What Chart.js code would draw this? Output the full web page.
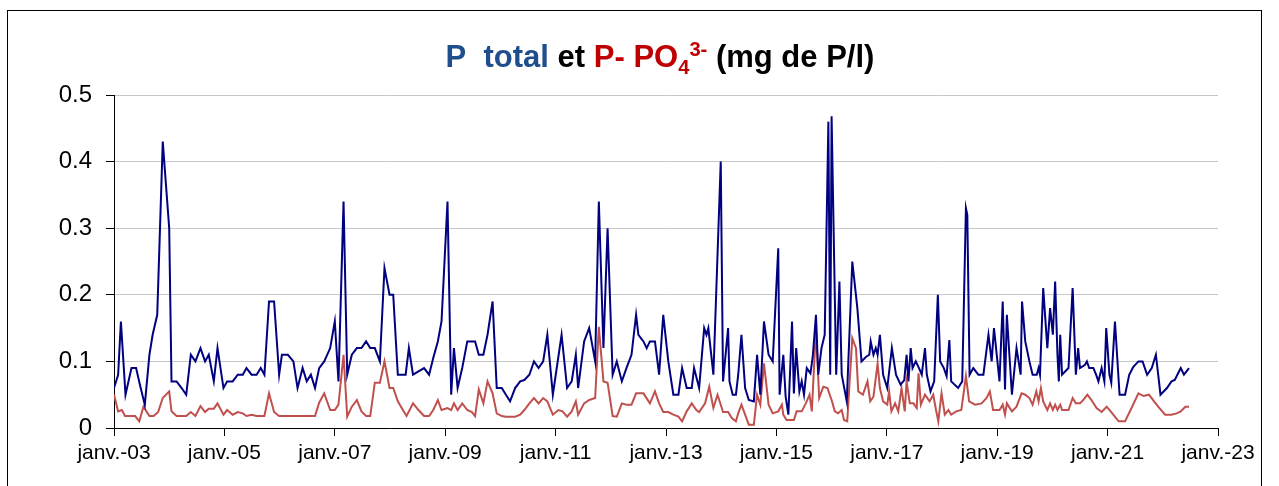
<!DOCTYPE html>
<html>
<head>
<meta charset="utf-8">
<script src="https://cdn.jsdelivr.net/npm/chart.js@4/dist/chart.umd.min.js"></script>
<style>
  html, body { margin: 0; padding: 0; background: #fff; }
  #wrap { position: relative; width: 1279px; height: 486px; overflow: hidden; }
  #frame { position: absolute; left: 7px; top: 10px; width: 1255px; height: 600px; border: 1px solid #000; box-sizing: border-box; }
  #title { position: absolute; top: 41px; left: 660px; transform: translateX(-50%); white-space: nowrap;
           font: bold 31px "Liberation Sans", Arial, sans-serif; line-height: 1; }
  #title sub, #title sup { font-size: 65%; line-height: 0; }
  #chart { position: absolute; left: 0; top: 0; }
</style>
</head>
<body>
<div id="wrap">
  <canvas id="chart" width="1279" height="486"></canvas>
  <div id="frame"></div>
  <div id="title"><span style="color:#1f4e8c">P&nbsp; total</span> <span style="color:#000">et</span> <span style="color:#c00000">P- PO<sub>4</sub><sup>3-</sup></span> <span style="color:#000">(mg de P/l)</span></div>
</div>
<script>
// mois depuis janv. 2003 et valeurs (mg de P/l)
var ptotMonths = [
  0, 0.9, 1.5, 2.5, 3.8, 4.8, 5.8, 6.7, 7.7, 8.4,
  9.4, 10.6, 12.0, 12.5, 13.6, 14.7, 15.7, 16.7, 17.7, 18.8,
  19.8, 20.6, 21.7, 22.5, 23.8, 24.6, 25.8, 26.9, 28.0, 28.8,
  29.9, 31.0, 31.9, 32.7, 33.7, 34.8, 35.9, 36.5, 37.8, 39.0,
  39.9, 41.0, 41.9, 42.8, 43.7, 44.6, 45.7, 47.0, 48.0, 48.8,
  49.9, 50.7, 51.7, 52.8, 53.8, 54.8, 55.7, 56.7, 57.8, 58.8,
  59.9, 60.7, 61.7, 62.8, 63.4, 64.1, 65.0, 66.2, 67.4, 68.5,
  69.4, 70.4, 71.2, 72.5, 73.3, 73.9, 74.7, 75.7, 76.8, 77.8,
  78.5, 79.3, 80.3, 81.2, 82.3, 83.2, 84.3, 85.2, 86.1, 87.2,
  88.3, 89.2, 90.3, 91.3, 92.3, 93.3, 94.2, 95.4, 97.3, 98.5,
  99.5, 100.4, 100.9, 102.2, 103.3, 104.6, 105.4, 106.4, 107.3, 108.4,
  109.3, 110.4, 111.4, 112.5, 113.5, 114.0, 115.1, 115.8, 116.5, 117.6,
  118.5, 119.4, 120.5, 121.6, 122.7, 123.5, 124.5, 125.6, 126.1, 127.2,
  128.3, 128.8, 129.2, 130.3, 131.9, 132.4, 133.5, 133.8, 134.5, 135.2,
  135.7, 136.4, 137.2, 138.0, 139.1, 139.8, 140.5, 141.3, 142.3, 143.2,
  144.4, 144.7, 145.5, 146.0, 146.6, 147.4, 147.8, 148.3, 149.0, 149.5,
  150.0, 150.6, 151.4, 151.9, 152.6, 153.1, 153.8, 154.5, 155.3, 155.7,
  156.0, 157.0, 157.7, 158.2, 159.3, 160.5, 161.6, 162.5, 163.5, 164.2,
  164.5, 165.1, 165.6, 166.0, 166.5, 167.2, 168.1, 169.1, 170.0, 171.0,
  171.8, 172.3, 172.7, 173.2, 173.6, 174.3, 175.0, 175.6, 176.3, 176.7,
  177.5, 178.3, 179.1, 179.6, 180.4, 181.0, 181.6, 182.0, 183.5, 184.4,
  185.2, 185.5, 186.0, 186.8, 187.9, 189.0, 190.1, 190.8, 191.3, 192.5,
  193.2, 193.7, 194.1, 195.2, 196.2, 197.1, 197.4, 198.1, 199.0, 199.7,
  200.6, 201.0, 201.3, 202.0, 202.9, 203.5, 204.1, 204.6, 205.1, 205.4,
  205.7, 206.1, 207.5, 208.4, 209.1, 209.6, 210.0, 211.1, 211.5, 212.0,
  212.9, 213.5, 214.0, 214.7, 215.3, 215.7, 216.4, 216.8, 217.6, 218.6,
  219.8, 220.7, 221.6, 222.7, 223.6, 224.6, 225.6, 226.5, 227.5, 228.9,
  229.9, 230.6, 231.9, 232.6, 233.7
];
var ptotValues = [
  .06, .08, .16, .05, .09, .09, .06, .035, .11, .14,
  .17, .43, .30, .07, .07, .06, .05, .11, .10, .12,
  .10, .11, .07, .12, .06, .07, .07, .08, .08, .09,
  .08, .08, .09, .08, .19, .19, .08, .11, .11, .10,
  .06, .09, .07, .08, .06, .09, .10, .12, .16, .07,
  .34, .08, .11, .12, .12, .13, .12, .12, .10, .24,
  .20, .20, .08, .08, .08, .12, .08, .085, .09, .08,
  .105, .13, .16, .34, .05, .12, .06, .09, .13, .13,
  .13, .11, .11, .14, .19, .06, .06, .05, .04, .06,
  .07, .072, .08, .10, .09, .10, .14, .05, .14, .06,
  .07, .11, .06, .13, .15, .10, .34, .12, .30, .08,
  .10, .07, .09, .11, .17, .14, .13, .12, .13, .13,
  .08, .17, .10, .05, .05, .09, .06, .06, .09, .06,
  .15, .14, .15, .08, .40, .07, .15, .07, .05, .05,
  .08, .14, .06, .042, .04, .11, .05, .16, .11, .10,
  .27, .05, .11, .048, .02, .16, .052, .12, .055, .07,
  .05, .09, .082, .107, .17, .08, .12, .14, .46, .08,
  .468, .08, .22, .08, .04, .25, .18, .10, .107, .11,
  .13, .11, .12, .11, .14, .08, .06, .12, .08, .065,
  .072, .11, .07, .12, .09, .10, .09, .08, .12, .08,
  .055, .07, .20, .10, .09, .078, .132, .07, .06, .07,
  .33, .32, .08, .09, .08, .08, .14, .10, .15, .07,
  .19, .058, .17, .05, .12, .08, .19, .13, .10, .08,
  .08, .09, .08, .21, .12, .18, .14, .22, .11, .07,
  .14, .08, .09, .21, .08, .12, .09, .095, .10, .09,
  .09, .08, .07, .09, .07, .15, .08, .068, .16, .05,
  .05, .08, .092, .10, .10, .08, .09, .11, .05, .06,
  .07, .072, .09, .08, .09
];

var po4Months = [
  0, 0.9, 1.7, 2.4, 3.5, 4.6, 5.5, 6.4, 7.7, 8.6,
  9.6, 10.6, 12.0, 12.5, 13.6, 14.7, 15.7, 16.7, 17.7, 18.8,
  19.8, 20.6, 21.7, 22.5, 23.8, 24.6, 25.8, 26.9, 28.0, 28.8,
  29.9, 31.0, 31.9, 32.7, 33.7, 34.8, 35.9, 37.0, 38.0, 39.0,
  40.0, 41.0, 42.0, 43.0, 43.7, 44.6, 45.7, 47.0, 48.0, 48.8,
  49.9, 50.7, 51.7, 52.8, 53.8, 54.8, 55.7, 56.7, 57.8, 58.8,
  59.9, 60.7, 61.7, 62.8, 63.6, 65.0, 66.2, 67.4, 68.5, 69.4,
  70.4, 71.2, 72.5, 73.3, 73.9, 74.7, 75.7, 76.8, 77.8, 78.5,
  79.3, 80.3, 81.2, 82.3, 83.2, 84.3, 85.2, 86.1, 87.2, 88.3,
  89.2, 90.3, 91.3, 92.3, 93.3, 94.2, 95.4, 96.6, 97.5, 98.5,
  99.5, 100.4, 100.9, 102.2, 103.3, 104.6, 105.4, 106.4, 107.3, 108.4,
  109.3, 110.4, 111.4, 112.5, 113.5, 115.1, 116.5, 117.6, 118.5, 119.4,
  120.5, 121.6, 122.7, 123.5, 124.5, 125.6, 126.6, 127.2, 128.5, 129.4,
  130.3, 131.2, 131.9, 132.4, 133.5, 134.3, 135.2, 135.7, 136.4, 137.2,
  138.0, 139.1, 139.8, 140.5, 141.3, 142.3, 143.2, 144.4, 145.2, 145.5,
  146.2, 147.0, 147.8, 148.4, 149.5, 150.4, 151.2, 151.7, 152.6, 153.3,
  154.2, 155.1, 156.0, 156.7, 157.4, 158.2, 158.7, 159.4, 160.5, 161.3,
  161.8, 162.8, 163.8, 164.4, 165.1, 166.0, 166.5, 167.2, 168.1, 168.5,
  169.0, 169.8, 170.5, 171.2, 171.9, 172.3, 173.0, 173.8, 174.5, 174.9,
  175.4, 176.3, 177.3, 178.1, 178.7, 179.2, 179.9, 180.6, 181.4, 182.0,
  183.1, 184.2, 185.2, 185.9, 187.2, 188.6, 189.7, 190.4, 191.1, 192.5,
  193.2, 193.7, 194.1, 195.2, 196.2, 197.3, 198.1, 199.0, 199.7, 200.5,
  201.0, 201.5, 202.0, 202.9, 203.5, 204.1, 204.6, 205.1, 205.7, 206.1,
  207.5, 208.4, 209.1, 210.0, 210.7, 211.6, 212.5, 213.6, 214.7, 215.8,
  216.8, 218.4, 219.8, 221.2, 222.7, 223.8, 225.0, 225.9, 227.0, 228.5,
  229.9, 231.0, 231.9, 232.9, 233.7
];
var po4Values = [
  .05, .025, .027, .018, .018, .018, .01, .032, .018, .018,
  .024, .045, .055, .025, .018, .018, .018, .024, .018, .033,
  .024, .029, .029, .037, .02, .027, .02, .024, .022, .018,
  .02, .018, .018, .018, .052, .024, .018, .018, .018, .018,
  .018, .018, .018, .018, .018, .038, .052, .027, .027, .035,
  .11, .017, .032, .042, .025, .018, .018, .068, .068, .10,
  .06, .06, .04, .027, .018, .037, .027, .018, .018, .027,
  .042, .027, .03, .027, .037, .027, .037, .027, .024, .018,
  .058, .037, .07, .052, .022, .018, .017, .017, .017, .02,
  .027, .037, .045, .037, .045, .04, .02, .027, .025, .017,
  .025, .04, .02, .037, .042, .045, .152, .07, .068, .018,
  .017, .037, .035, .035, .052, .052, .037, .055, .037, .024,
  .024, .02, .017, .01, .025, .037, .027, .024, .037, .062,
  .03, .05, .035, .024, .024, .015, .01, .022, .035, .02,
  .005, .005, .05, .035, .097, .035, .022, .025, .035, .02,
  .012, .012, .012, .025, .025, .037, .05, .025, .15, .045,
  .062, .06, .042, .025, .022, .027, .012, .01, .135, .12,
  .055, .05, .07, .04, .047, .097, .06, .04, .035, .055,
  .025, .037, .025, .06, .025, .07, .037, .037, .03, .082,
  .035, .05, .04, .05, .027, .01, .052, .02, .027, .02,
  .025, .027, .078, .04, .035, .037, .045, .055, .027, .027,
  .035, .02, .037, .025, .032, .052, .05, .045, .035, .055,
  .04, .06, .04, .027, .037, .027, .035, .027, .035, .027,
  .027, .045, .037, .037, .042, .05, .042, .03, .024, .032,
  .024, .01, .01, .03, .052, .048, .05, .042, .032, .02,
  .02, .022, .025, .032, .032
];

var yTicks = [0, 0.1, 0.2, 0.3, 0.4, 0.5];
var startYear = 2003, endYear = 2023;

function toPoints(months, values) {
  return months.map(function (m, i) { return { x: startYear + m / 12, y: values[i] }; });
}

var font = "'Liberation Sans', Arial, sans-serif";

var ctx = document.getElementById('chart').getContext('2d');
var chart = new Chart(ctx, {
  type: 'line',
  data: {
    datasets: [{
      label: 'P total',
      data: toPoints(ptotMonths, ptotValues),
      borderColor: '#000080',
      borderWidth: 2,
      pointRadius: 0,
      fill: false
    }, {
      label: 'P-PO4',
      data: toPoints(po4Months, po4Values),
      borderColor: '#c0504d',
      borderWidth: 2,
      pointRadius: 0,
      fill: false
    }]
  },
  options: {
    responsive: false,
    animation: false,
    layout: { padding: { left: 0, right: 61, top: 95, bottom: 0 } },
    plugins: {
      legend: { display: false },
      title: { display: false },
      tooltip: { enabled: false }
    },
    scales: {
      x: {
        type: 'linear',
        min: startYear,
        max: endYear,
        afterFit: function (s) { s.height = 58; },
        afterBuildTicks: function (s) {
          var t = [];
          for (var y = startYear; y <= endYear; y += 2) t.push({ value: y });
          s.ticks = t;
        },
        ticks: {
          color: '#000',
          font: { family: font, size: 21 },
          padding: 5,
          maxRotation: 0,
          autoSkip: false,
          callback: function (v) { return 'janv.-' + String(v).slice(2); }
        },
        grid: { drawOnChartArea: false, tickLength: 8, tickColor: '#000', lineWidth: 1 },
        border: { color: '#000', width: 1 }
      },
      y: {
        min: 0,
        max: 0.5,
        afterFit: function (s) { s.width = 114; },
        afterBuildTicks: function (s) {
          s.ticks = yTicks.map(function (v) { return { value: v }; });
        },
        ticks: {
          color: '#000',
          font: { family: font, size: 24 },
          padding: 14,
          callback: function (v) { return v === 0 ? '0' : v.toFixed(1); }
        },
        grid: {
          color: function (c) { return c.tick && c.tick.value === 0 ? 'rgba(0,0,0,0)' : '#c8c8c8'; },
          tickColor: '#000',
          tickLength: 8,
          lineWidth: 1
        },
        border: { color: '#000', width: 1 }
      }
    }
  }
});
</script>
</body>
</html>
